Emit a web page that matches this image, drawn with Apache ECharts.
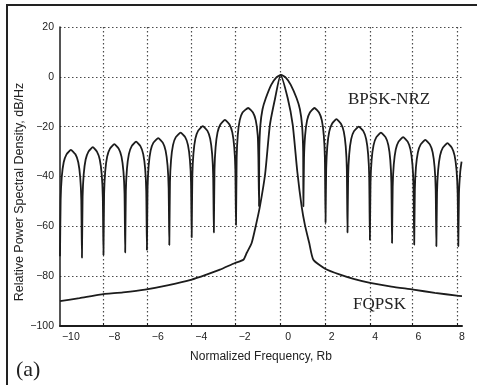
<!DOCTYPE html>
<html>
<head>
<meta charset="utf-8">
<script src="https://cdn.jsdelivr.net/npm/echarts@6/dist/echarts.min.js"></script>
<style>
  html, body { margin: 0; padding: 0; background: #fff; }
  #chart { width: 477px; height: 385px; }
</style>
</head>
<body>
<div id="chart"></div>
<script>
// tick labels on the frequency axis
const xLabels = [-10, -8, -6, -4, -2, 0, 2, 4, 6, 8];
// where the dotted vertical grid lines sit (they are offset from the labels in the scan)
const xGrid = [-8.5, -6.48, -4.45, -2.43, -0.37, 1.7, 3.76, 5.73, 7.8];

// BPSK-NRZ spectrum: [freq, dB]
const bpsk = [
  [-10.5, -72], [-10.47, -49.3], [-10.42, -40.3], [-10.33, -34.3], [-10.2, -31.1], [-10.0, -29.3], [-9.79, -31.1], [-9.66, -34.3], [-9.57, -40.3], [-9.52, -49.3], [-9.49, -72.6],
  [-9.46, -48.2], [-9.41, -39.2], [-9.32, -33.2], [-9.19, -30], [-8.99, -28.2], [-8.8, -30], [-8.67, -33.2], [-8.58, -39.2], [-8.53, -48.2], [-8.5, -71.5],
  [-8.47, -47], [-8.42, -38], [-8.33, -32], [-8.2, -28.8], [-8.0, -27], [-7.8, -28.8], [-7.67, -32], [-7.58, -38], [-7.53, -47], [-7.5, -70.5],
  [-7.47, -46], [-7.42, -37], [-7.33, -31], [-7.2, -27.8], [-7.0, -26], [-6.8, -27.8], [-6.67, -31], [-6.58, -37], [-6.53, -46], [-6.5, -69.5],
  [-6.47, -44.6], [-6.42, -35.6], [-6.33, -29.6], [-6.2, -26.4], [-5.98, -24.6], [-5.77, -26.4], [-5.64, -29.6], [-5.55, -35.6], [-5.5, -44.6], [-5.47, -67.5],
  [-5.44, -42.4], [-5.39, -33.4], [-5.3, -27.4], [-5.17, -24.2], [-4.95, -22.4], [-4.74, -24.2], [-4.61, -27.4], [-4.52, -33.4], [-4.47, -42.4], [-4.44, -64.5],
  [-4.41, -39.8], [-4.36, -30.8], [-4.27, -24.8], [-4.14, -21.6], [-3.93, -19.8], [-3.72, -21.6], [-3.59, -24.8], [-3.5, -30.8], [-3.45, -39.8], [-3.42, -62.5],
  [-3.39, -37.3], [-3.34, -28.3], [-3.25, -22.3], [-3.12, -19.1], [-2.91, -17.3], [-2.7, -19.1], [-2.57, -22.3], [-2.48, -28.3], [-2.43, -37.3], [-2.4, -59.5],
  [-2.37, -32.5], [-2.32, -23.5], [-2.23, -17.5], [-2.1, -14.3], [-1.84, -12.5], [-1.62, -14.3], [-1.49, -17.5], [-1.4, -23.5], [-1.37, -32.5], [-1.34, -52],
  [-1.33, -30], [-1.28, -19.5], [-1.18, -13], [-1.03, -8.6], [-0.78, -3.2], [-0.56, -0.4], [-0.33, 0.8], [-0.1, -0.4], [0.12, -3.2], [0.39, -8.6], [0.54, -13], [0.64, -19.5], [0.69, -30], [0.70, -52],
  [0.73, -32.5], [0.78, -23.5], [0.87, -17.5], [1.0, -14.3], [1.21, -12.5], [1.42, -14.3], [1.55, -17.5], [1.64, -23.5], [1.69, -32.5], [1.72, -58.5],
  [1.75, -37], [1.8, -28], [1.89, -22], [2.02, -18.8], [2.22, -17], [2.43, -18.8], [2.56, -22], [2.65, -28], [2.7, -37], [2.73, -62.5],
  [2.76, -40], [2.81, -31], [2.9, -25], [3.03, -21.8], [3.25, -20], [3.46, -21.8], [3.59, -25], [3.68, -31], [3.73, -40], [3.76, -65.5],
  [3.79, -42.4], [3.84, -33.4], [3.93, -27.4], [4.06, -24.2], [4.27, -22.4], [4.48, -24.2], [4.61, -27.4], [4.7, -33.4], [4.75, -42.4], [4.78, -66.7],
  [4.81, -44.2], [4.86, -35.2], [4.95, -29.2], [5.08, -26], [5.29, -24.2], [5.5, -26], [5.63, -29.2], [5.72, -35.2], [5.77, -44.2], [5.8, -67.4],
  [5.83, -45.3], [5.88, -36.3], [5.97, -30.3], [6.1, -27.1], [6.31, -25.3], [6.52, -27.1], [6.65, -30.3], [6.74, -36.3], [6.79, -45.3], [6.82, -68],
  [6.85, -46.6], [6.9, -37.6], [6.99, -31.6], [7.12, -28.4], [7.33, -26.6], [7.53, -28.4], [7.66, -31.6], [7.75, -37.6], [7.8, -46.6], [7.83, -68],
  [7.86, -47], [7.92, -38], [7.98, -34]
];

// FQPSK spectrum: [freq, dB]
const fqpsk = [
  [-10.5, -90], [-9.6, -88.8], [-8.66, -87.4], [-7.6, -86.5], [-6.59, -85.4], [-5.5, -83.6], [-4.44, -81.4],
  [-3.7, -79.2], [-3.14, -77.4], [-2.45, -74.7], [-2.06, -73.4], [-1.91, -70.7], [-1.68, -66.7],
  [-1.48, -59.4], [-1.3, -52], [-1.06, -39], [-0.84, -19.3], [-0.6, -8.6], [-0.35, 0.7],
  [-0.02, -8.6], [0.21, -19.3], [0.42, -38], [0.62, -52], [0.77, -59.4], [0.97, -66.7], [1.16, -73.4],
  [1.7, -77], [2.39, -79.4], [3.05, -81.2], [3.77, -82.7], [4.75, -84.2], [5.76, -85.4], [6.75, -86.7], [7.76, -87.8], [8.0, -88]
];

const minus = (v) => String(v).replace('-', '\u2212');
const ink = '#1c1c1c';
const gridDots = { color: '#4a4a4a', width: 1.2, type: [1.5, 2.5] };

const chart = echarts.init(document.getElementById('chart'), null, { renderer: 'canvas' });

const option = {
  animation: false,
  backgroundColor: '#fff',
  grid: { left: 60, right: 15, top: 27, bottom: 59 },
  xAxis: {
    type: 'value',
    min: -10.5,
    max: 8,
    name: 'Normalized Frequency, Rb',
    nameLocation: 'middle',
    nameGap: 25,
    nameTextStyle: { fontFamily: 'Liberation Sans', fontSize: 12, color: '#222' },
    axisLine: { show: true, onZero: false, lineStyle: { color: ink, width: 2 } },
    axisTick: { show: true, inside: true, length: 3, customValues: xGrid, lineStyle: { color: ink } },
    axisLabel: {
      customValues: xLabels,
      formatter: minus,
      fontFamily: 'Liberation Sans', fontSize: 10.5, color: '#222', margin: 6
    },
    splitLine: { show: true, lineStyle: gridDots }
  },
  yAxis: {
    type: 'value',
    min: -100,
    max: 20,
    interval: 20,
    axisLine: { show: true, onZero: false, lineStyle: { color: ink, width: 1.5 } },
    axisTick: { show: false },
    axisLabel: { formatter: minus, fontFamily: 'Liberation Sans', fontSize: 10.5, color: '#222', margin: 6 },
    splitLine: { show: true, lineStyle: gridDots }
  },
  graphic: [
    {
      type: 'rect', silent: true,
      shape: { x: 7, y: 5, width: 480, height: 400 },
      style: { fill: 'none', stroke: '#222', lineWidth: 2 }
    },
    {
      type: 'text', silent: true,
      x: 20, y: 192, rotation: Math.PI / 2,
      style: {
        text: 'Relative Power Spectral Density, dB/Hz',
        fontFamily: 'Liberation Sans', fontSize: 12.5, fill: '#222',
        align: 'center', verticalAlign: 'middle'
      }
    },
    {
      type: 'text', silent: true, x: 348, y: 100,
      style: { text: 'BPSK-NRZ', fontFamily: 'Liberation Serif', fontSize: 17, fill: '#222', verticalAlign: 'middle' }
    },
    {
      type: 'text', silent: true, x: 353, y: 305,
      style: { text: 'FQPSK', fontFamily: 'Liberation Serif', fontSize: 17, fill: '#222', verticalAlign: 'middle' }
    },
    {
      type: 'text', silent: true, x: 16, y: 370,
      style: { text: '(a)', fontFamily: 'Liberation Serif', fontSize: 22, fill: '#222', verticalAlign: 'middle' }
    }
  ],
  series: [
    {
      name: 'BPSK-NRZ',
      type: 'line',
      data: bpsk,
      showSymbol: false,
      symbol: 'none',
      smooth: 0.15,
      lineStyle: { color: ink, width: 1.8 },
      z: 3
    },
    {
      name: 'FQPSK',
      type: 'line',
      data: fqpsk,
      showSymbol: false,
      symbol: 'none',
      smooth: 0.2,
      lineStyle: { color: ink, width: 1.8 },
      z: 3
    }
  ]
};

chart.setOption(option);
</script>
</body>
</html>
